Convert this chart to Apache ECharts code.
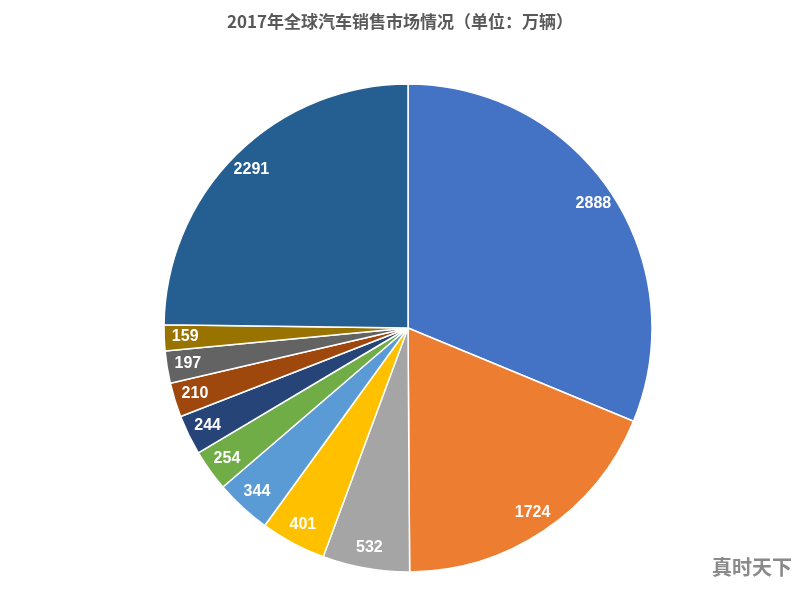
<!DOCTYPE html>
<html>
<head>
<meta charset="utf-8">
<script src="https://cdn.jsdelivr.net/npm/echarts@6/dist/echarts.min.js"></script>
<style>
html,body{margin:0;padding:0;background:#fff;}
#c{width:800px;height:589px;}
</style>
</head>
<body>
<div id="c"></div>
<script>
var titleText = '2017年全球汽车销售市场情况（单位：万辆）';
var categories = ['A','B','C','D','E','F','G','H','I','J','K'];
var values = [2888, 1724, 532, 401, 344, 254, 244, 210, 197, 159, 2291];
var colors = ['#4472C4','#ED7D31','#A5A5A5','#FFC000','#5B9BD5','#70AD47','#264478','#9E480E','#636363','#997300','#255E91'];
var watermark = '真时天下';

var data = categories.map(function(c,i){ return {name:c, value:values[i]}; });
var chart = echarts.init(document.getElementById('c'), null, {renderer:'canvas'});
chart.setOption({
  backgroundColor:'#ffffff',
  animation:false,
  color: colors,
  title:{
    text:titleText, left:'center', top:8,
    textStyle:{fontFamily:'"Noto Sans CJK SC", sans-serif', fontSize:17, fontWeight:'bold', color:'#595959'}
  },
  graphic:[{
    type:'text', right:8, top:557,
    style:{text:watermark, fill:'#8a8a8a', font:'bold 20px "Noto Sans CJK SC", sans-serif'}
  }],
  series:[
    {
      type:'pie', center:[408,328], radius:[0,244], startAngle:90, clockwise:true,
      data:data, label:{show:false}, labelLine:{show:false},
      itemStyle:{borderColor:'#ffffff', borderWidth:1.5}
    },
    {
      type:'pie', center:[408,328], radius:[196,244], startAngle:90, clockwise:true,
      data:data, silent:true,
      itemStyle:{color:'rgba(0,0,0,0)', borderWidth:0},
      label:{show:true, position:'inside', formatter:'{c}', color:'#ffffff',
        fontFamily:'"Liberation Sans", Arial, sans-serif', fontWeight:'bold', fontSize:16},
      labelLine:{show:false}
    }
  ]
});
</script>
</body>
</html>
